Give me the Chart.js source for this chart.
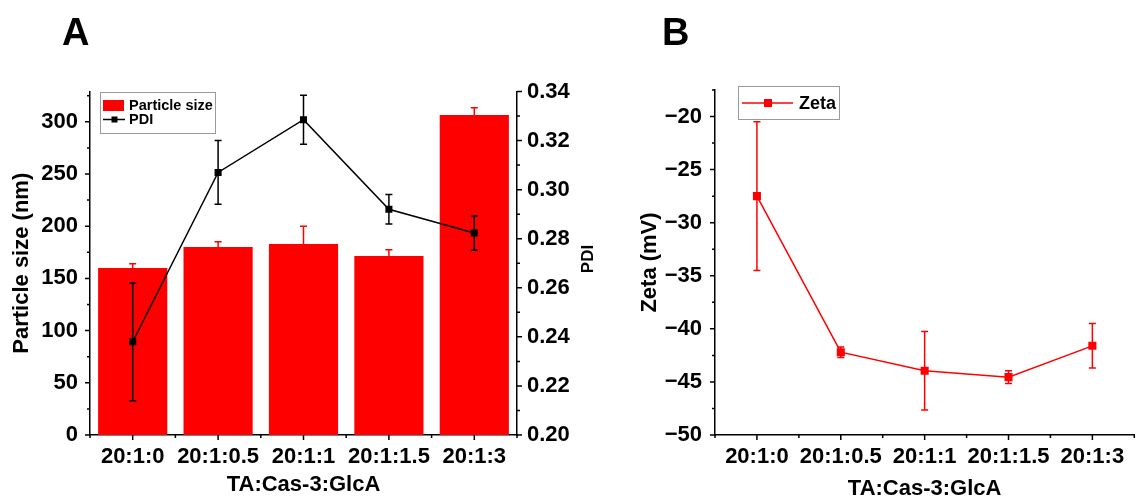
<!DOCTYPE html>
<html>
<head>
<meta charset="utf-8">
<script src="https://cdn.jsdelivr.net/npm/chart.js@4.4.0/dist/chart.umd.min.js"></script>
<style>
  body { margin: 0; background: #fff; width: 1140px; height: 500px; position: relative; overflow: hidden; }
  canvas { position: absolute; top: 0; }
  #chartA { left: 0; }
  #chartB { left: 610px; }
</style>
</head>
<body>
<canvas id="chartA" width="610" height="500"></canvas>
<canvas id="chartB" width="530" height="500"></canvas>
<script>
// data
const categories = ['20:1:0', '20:1:0.5', '20:1:1', '20:1:1.5', '20:1:3'];
const particleSize = [160, 180, 183, 171.5, 306.5];
const particleErr = [4, 5, 17, 6, 7];
const pdi = [0.238, 0.307, 0.3285, 0.292, 0.2823];
const pdiErr = [0.024, 0.013, 0.010, 0.006, 0.007];
const zeta = [-27.5, -42.2, -43.95, -44.55, -41.6];
const zetaErr = [7, 0.5, 3.7, 0.6, 2.1];

// axis ranges [min, max, step]
const sizeAxis = [0, 329, 50];
const pdiAxis = [0.20, 0.34, 0.02];
const zetaAxis = [-50, -17.5, 5];

const FONT = "'Liberation Sans', Arial, sans-serif";
Chart.defaults.font.family = FONT;
Chart.defaults.font.weight = 'bold';
Chart.defaults.color = '#000';

const RED = '#ff0000';

// error bars, drawn from dataset.errors
const errorBars = {
  id: 'errorBars',
  afterDatasetsDraw(chart) {
    const ctx = chart.ctx;
    chart.data.datasets.forEach((ds, i) => {
      if (!ds.errors) return;
      const meta = chart.getDatasetMeta(i);
      const yScale = chart.scales[meta.yAxisID];
      ctx.save();
      ctx.strokeStyle = ds.errorColor;
      ctx.lineWidth = 1.5;
      meta.data.forEach((el, j) => {
        const x = el.x;
        const hi = yScale.getPixelForValue(ds.data[j] + ds.errors[j]);
        const lo = ds.upperOnly ? el.y : yScale.getPixelForValue(ds.data[j] - ds.errors[j]);
        const cap = 3.5;
        ctx.beginPath();
        ctx.moveTo(x, lo); ctx.lineTo(x, hi);
        ctx.moveTo(x - cap, hi); ctx.lineTo(x + cap, hi);
        if (!ds.upperOnly) { ctx.moveTo(x - cap, lo); ctx.lineTo(x + cap, lo); }
        ctx.stroke();
      });
      ctx.restore();
    });
  }
};

// outward major + minor tick marks
const axisTicks = {
  id: 'axisTicks',
  afterDraw(chart) {
    const ctx = chart.ctx;
    ctx.save();
    ctx.strokeStyle = '#000';
    ctx.lineWidth = 1.5;
    ctx.beginPath();
    Object.values(chart.scales).forEach(s => {
      if (s.axis === 'x') {
        const n = s.ticks.length;
        for (let i = 0; i < n; i++) {
          const px = s.getPixelForValue(i);
          ctx.moveTo(px, s.top); ctx.lineTo(px, s.top + 5);
        }
        for (let i = 0; i <= n; i++) {
          const px = s.getPixelForValue(i - 0.5);
          ctx.moveTo(px, s.top); ctx.lineTo(px, s.top + 3);
        }
      } else {
        const step = s.options.ticks.stepSize / 2;
        const first = s.ticks[0].value;
        for (let k = 0; first + k * step <= s.max + 1e-9; k++) {
          const py = s.getPixelForValue(first + k * step);
          const len = k % 2 === 0 ? 5 : 3;
          if (s.position === 'left') { ctx.moveTo(s.right, py); ctx.lineTo(s.right - len, py); }
          else { ctx.moveTo(s.left, py); ctx.lineTo(s.left + len, py); }
        }
      }
    });
    ctx.stroke();
    ctx.restore();
  }
};

function panelLetter(ctx, letter, x) {
  ctx.save();
  ctx.font = 'bold 38px ' + FONT;
  ctx.fillStyle = '#000';
  ctx.textBaseline = 'alphabetic';
  ctx.fillText(letter, x, 45);
  ctx.restore();
}

const decorA = {
  id: 'decorA',
  afterDraw(chart) {
    const ctx = chart.ctx;
    const bars = chart.data.datasets[1];
    const line = chart.data.datasets[0];
    panelLetter(ctx, 'A', 62);
    ctx.save();
    // legend box
    ctx.strokeStyle = '#9a9a9a';
    ctx.lineWidth = 1;
    ctx.strokeRect(100.5, 92.5, 115, 41);
    ctx.fillStyle = RED;
    ctx.fillRect(103, 100, 21, 11);
    ctx.strokeStyle = '#000';
    ctx.lineWidth = 1.5;
    ctx.beginPath(); ctx.moveTo(103, 119.5); ctx.lineTo(125, 119.5); ctx.stroke();
    ctx.fillStyle = '#000';
    ctx.fillRect(111.5, 116.5, 6, 6);
    ctx.font = 'bold 14.5px ' + FONT;
    ctx.textBaseline = 'middle';
    ctx.fillText(bars.label, 129, 106);
    ctx.fillText(line.label, 129, 120);
    // right axis title
    ctx.translate(588, 259);
    ctx.rotate(-Math.PI / 2);
    ctx.textAlign = 'center';
    ctx.font = 'bold 17px ' + FONT;
    ctx.fillText('PDI', 0, 0);
    ctx.restore();
  }
};

const decorB = {
  id: 'decorB',
  afterDraw(chart) {
    const ctx = chart.ctx;
    const ds = chart.data.datasets[0];
    panelLetter(ctx, 'B', 52);
    ctx.save();
    ctx.strokeStyle = '#9a9a9a';
    ctx.lineWidth = 1;
    ctx.strokeRect(128.5, 86.5, 101, 33);
    ctx.strokeStyle = RED;
    ctx.lineWidth = 1.5;
    ctx.beginPath(); ctx.moveTo(132, 103); ctx.lineTo(183, 103); ctx.stroke();
    ctx.fillStyle = RED;
    ctx.fillRect(154, 99, 8, 8);
    ctx.fillStyle = '#000';
    ctx.font = 'bold 18px ' + FONT;
    ctx.textBaseline = 'middle';
    ctx.fillText(ds.label, 189, 104);
    ctx.restore();
  }
};

const tickFont = { size: 22, weight: 'bold' };
const titleFont = { size: 22, weight: 'bold' };
const axisBorder = { display: true, color: '#000', width: 1.5 };
const noGrid = { display: false, drawTicks: false };

// panel A: particle size bars + PDI line
const chartA = new Chart(document.getElementById('chartA'), {
  type: 'bar',
  data: {
    labels: categories,
    datasets: [
      {
        type: 'line', label: 'PDI', data: pdi, errors: pdiErr, errorColor: '#000',
        yAxisID: 'y1', order: 0,
        borderColor: '#000', backgroundColor: '#000', borderWidth: 1.5,
        pointStyle: 'rect', pointRadius: 5, pointBorderWidth: 0
      },
      {
        type: 'bar', label: 'Particle size', data: particleSize, errors: particleErr,
        errorColor: RED, upperOnly: true,
        yAxisID: 'y', order: 1,
        backgroundColor: RED, barPercentage: 0.81, categoryPercentage: 1
      }
    ]
  },
  options: {
    responsive: false,
    animation: false,
    layout: { padding: { top: 91.5, left: 0, right: 0, bottom: 0 } },
    plugins: { legend: { display: false }, tooltip: { enabled: false } },
    scales: {
      x: {
        grid: noGrid, border: axisBorder,
        ticks: { font: tickFont, padding: 9, maxRotation: 0, autoSkip: false },
        title: { display: true, text: 'TA:Cas-3:GlcA', font: { ...titleFont, lineHeight: 1.4 }, padding: 0 },
        afterFit: s => { s.height = 65; }
      },
      y: {
        position: 'left', min: sizeAxis[0], max: sizeAxis[1],
        grid: noGrid, border: axisBorder,
        ticks: { stepSize: sizeAxis[2], includeBounds: false, font: tickFont, padding: 12 },
        title: { display: true, text: 'Particle size (nm)', font: titleFont, padding: { top: 9, bottom: 0 } },
        afterFit: s => { s.width = 90; }
      },
      y1: {
        position: 'right', min: pdiAxis[0], max: pdiAxis[1],
        grid: noGrid, border: axisBorder,
        ticks: { stepSize: pdiAxis[2], includeBounds: false, font: tickFont, padding: 10,
                 callback: v => v.toFixed(2) },
        afterFit: s => { s.width = 93; }
      }
    }
  },
  plugins: [errorBars, axisTicks, decorA]
});

// panel B: zeta potential
const chartB = new Chart(document.getElementById('chartB'), {
  type: 'line',
  data: {
    labels: categories,
    datasets: [{
      label: 'Zeta', data: zeta, errors: zetaErr, errorColor: RED,
      borderColor: RED, backgroundColor: RED, borderWidth: 1.5,
      pointStyle: 'rect', pointRadius: 5.7, pointBorderWidth: 0
    }]
  },
  options: {
    responsive: false,
    animation: false,
    layout: { padding: { top: 90, left: 0, right: 0, bottom: 0 } },
    plugins: { legend: { display: false }, tooltip: { enabled: false } },
    scales: {
      x: {
        offset: true,
        grid: noGrid, border: axisBorder,
        ticks: { font: tickFont, padding: 9, maxRotation: 0, autoSkip: false },
        title: { display: true, text: 'TA:Cas-3:GlcA', font: { ...titleFont, lineHeight: 1.0 }, padding: 0 },
        afterFit: s => { s.height = 65; }
      },
      y: {
        position: 'left', min: zetaAxis[0], max: zetaAxis[1],
        grid: noGrid, border: axisBorder,
        ticks: { stepSize: zetaAxis[2], includeBounds: false, font: tickFont, padding: 13,
                 callback: v => (v < 0 ? '\u2212' : '') + Math.abs(v) },
        title: { display: true, text: 'Zeta (mV)', font: titleFont, padding: { top: 27, bottom: 0 } },
        afterFit: s => { s.width = 105; }
      }
    }
  },
  plugins: [errorBars, axisTicks, decorB]
});
</script>
</body>
</html>
